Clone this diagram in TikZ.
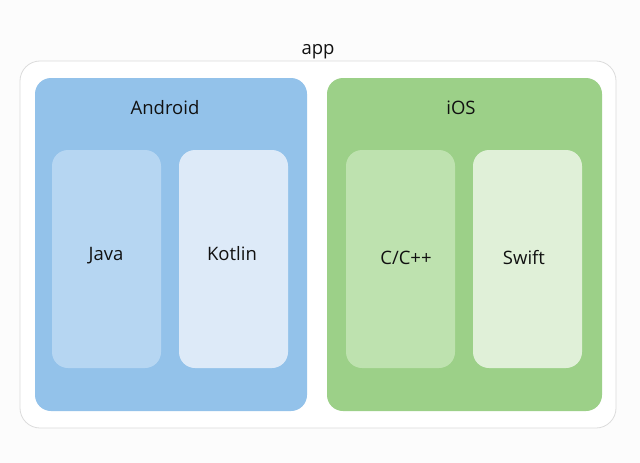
\documentclass[tikz,border=0pt]{standalone}
\usepackage{fontspec}
\setmainfont{Open Sans}
\definecolor{bgc}{HTML}{FCFCFC}
\definecolor{outerline}{HTML}{DCDCDC}
\definecolor{andbox}{HTML}{93C2EA}
\definecolor{javabox}{HTML}{B6D6F2}
\definecolor{kotbox}{HTML}{DDEAF8}
\definecolor{iosbox}{HTML}{9CD088}
\definecolor{cbox}{HTML}{BEE2AF}
\definecolor{swbox}{HTML}{E0F0D8}
\definecolor{txt}{HTML}{111111}
\begin{document}
\begin{tikzpicture}[x=1pt,y=-1pt,
  lbl/.style={text=txt,font=\fontsize{18.5}{22}\selectfont,inner sep=0pt,anchor=base},
  outerbox/.style={draw=outerline,line width=0.8pt,fill=white,rounded corners=20pt},
  platbox/.style={rounded corners=16pt},
  langbox/.style={rounded corners=16pt}]
\useasboundingbox[fill=bgc] (0,0) rectangle (640,463);
\draw[outerbox] (20,61) rectangle (616,428);
\fill[platbox,andbox] (35,78) rectangle (307,411);
\fill[platbox,iosbox] (327,78) rectangle (602,411);
\fill[langbox,javabox] (52,150) rectangle (161,368);
\fill[langbox,kotbox] (179,150) rectangle (288,368);
\fill[langbox,cbox] (346,150) rectangle (455,368);
\fill[langbox,swbox] (473,150) rectangle (582,368);
\node[lbl] (app) at (318,54) {app};
\node[lbl] (android) at (165,114) {Android};
\node[lbl] (ios) at (461,114) {iOS};
\node[lbl] (java) at (106,260) {Java};
\node[lbl] (kotlin) at (232,260) {Kotlin};
\node[lbl] (cpp) at (406,264) {C/C++};
\node[lbl] (swift) at (524,264) {Swift};
\end{tikzpicture}
\end{document}
